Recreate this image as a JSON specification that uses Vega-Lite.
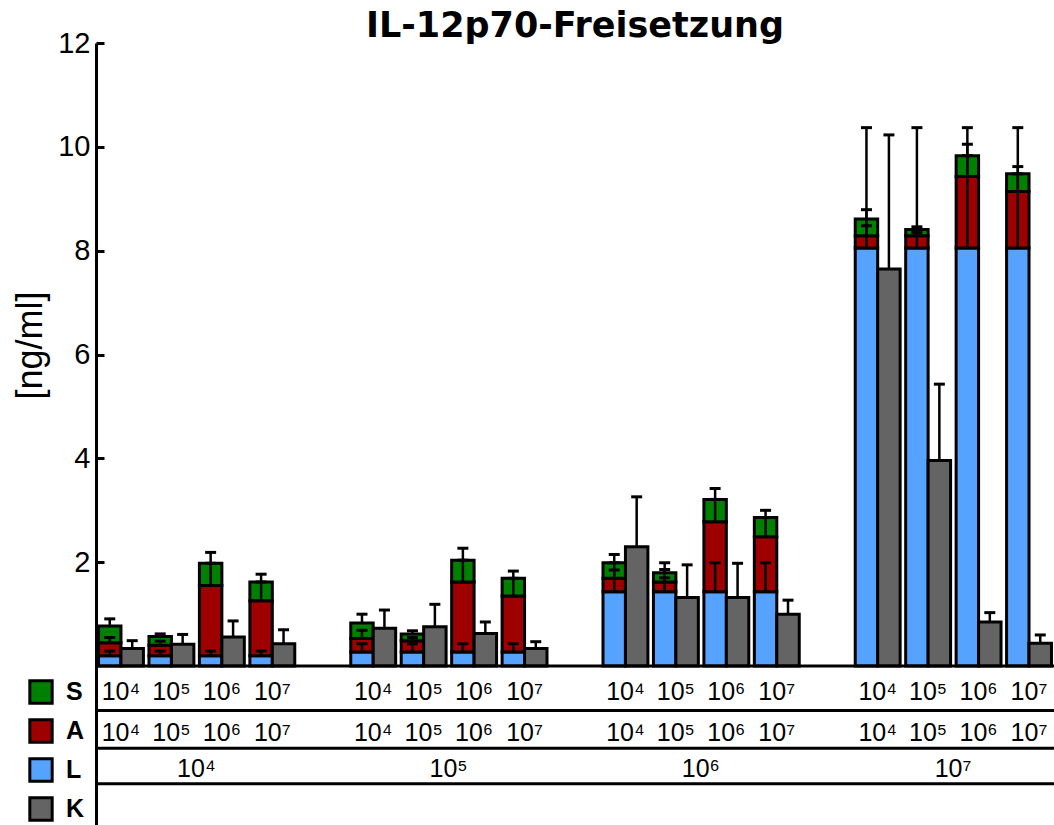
{
  "$schema": "https://vega.github.io/schema/vega-lite/v6.json",
  "width": 958,
  "height": 782,
  "autosize": {"type": "none"},
  "padding": {"left": 96, "top": 43, "right": 0, "bottom": 0},
  "background": "white",
  "config": {
    "view": {"stroke": null},
    "font": "Liberation Sans"
  },
  "title": {
    "text": "IL-12p70-Freisetzung",
    "fontSize": 35,
    "fontWeight": "bold",
    "font": "DejaVu Sans",
    "color": "black",
    "anchor": "middle",
    "offset": 0,
    "dy": 15
  },
  "datasets": {
    "bars": [
      {"slot": "L4-1", "kind": "stack", "series": "L", "lo": 0, "hi": 0.2, "errHi": 0.29},
      {"slot": "L4-1", "kind": "stack", "series": "A", "lo": 0.2, "hi": 0.45, "errHi": 0.55},
      {"slot": "L4-1", "kind": "stack", "series": "S", "lo": 0.45, "hi": 0.77, "errHi": 0.91},
      {"slot": "L4-1", "kind": "K", "series": "K", "lo": 0, "hi": 0.34, "errHi": 0.49},
      {"slot": "L4-2", "kind": "stack", "series": "L", "lo": 0, "hi": 0.2, "errHi": 0.29},
      {"slot": "L4-2", "kind": "stack", "series": "A", "lo": 0.2, "hi": 0.4, "errHi": 0.48},
      {"slot": "L4-2", "kind": "stack", "series": "S", "lo": 0.4, "hi": 0.57, "errHi": 0.62},
      {"slot": "L4-2", "kind": "K", "series": "K", "lo": 0, "hi": 0.42, "errHi": 0.61},
      {"slot": "L4-3", "kind": "stack", "series": "L", "lo": 0, "hi": 0.2, "errHi": 0.29},
      {"slot": "L4-3", "kind": "stack", "series": "A", "lo": 0.2, "hi": 1.55, "errHi": 1.98},
      {"slot": "L4-3", "kind": "stack", "series": "S", "lo": 1.55, "hi": 1.98, "errHi": 2.19},
      {"slot": "L4-3", "kind": "K", "series": "K", "lo": 0, "hi": 0.56, "errHi": 0.87},
      {"slot": "L4-4", "kind": "stack", "series": "L", "lo": 0, "hi": 0.2, "errHi": 0.29},
      {"slot": "L4-4", "kind": "stack", "series": "A", "lo": 0.2, "hi": 1.26, "errHi": 1.62},
      {"slot": "L4-4", "kind": "stack", "series": "S", "lo": 1.26, "hi": 1.62, "errHi": 1.77},
      {"slot": "L4-4", "kind": "K", "series": "K", "lo": 0, "hi": 0.43, "errHi": 0.7},
      {"slot": "L5-1", "kind": "stack", "series": "L", "lo": 0, "hi": 0.27, "errHi": 0.43},
      {"slot": "L5-1", "kind": "stack", "series": "A", "lo": 0.27, "hi": 0.53, "errHi": 0.69},
      {"slot": "L5-1", "kind": "stack", "series": "S", "lo": 0.53, "hi": 0.83, "errHi": 1.0},
      {"slot": "L5-1", "kind": "K", "series": "K", "lo": 0, "hi": 0.73, "errHi": 1.08},
      {"slot": "L5-2", "kind": "stack", "series": "L", "lo": 0, "hi": 0.27, "errHi": 0.43},
      {"slot": "L5-2", "kind": "stack", "series": "A", "lo": 0.27, "hi": 0.49, "errHi": 0.55},
      {"slot": "L5-2", "kind": "stack", "series": "S", "lo": 0.49, "hi": 0.62, "errHi": 0.68},
      {"slot": "L5-2", "kind": "K", "series": "K", "lo": 0, "hi": 0.76, "errHi": 1.19},
      {"slot": "L5-3", "kind": "stack", "series": "L", "lo": 0, "hi": 0.27, "errHi": 0.43},
      {"slot": "L5-3", "kind": "stack", "series": "A", "lo": 0.27, "hi": 1.62, "errHi": 2.04},
      {"slot": "L5-3", "kind": "stack", "series": "S", "lo": 1.62, "hi": 2.04, "errHi": 2.27},
      {"slot": "L5-3", "kind": "K", "series": "K", "lo": 0, "hi": 0.63, "errHi": 0.85},
      {"slot": "L5-4", "kind": "stack", "series": "L", "lo": 0, "hi": 0.27, "errHi": 0.43},
      {"slot": "L5-4", "kind": "stack", "series": "A", "lo": 0.27, "hi": 1.35, "errHi": 1.69},
      {"slot": "L5-4", "kind": "stack", "series": "S", "lo": 1.35, "hi": 1.69, "errHi": 1.83},
      {"slot": "L5-4", "kind": "K", "series": "K", "lo": 0, "hi": 0.34, "errHi": 0.47},
      {"slot": "L6-1", "kind": "stack", "series": "L", "lo": 0, "hi": 1.43, "errHi": 1.99},
      {"slot": "L6-1", "kind": "stack", "series": "A", "lo": 1.43, "hi": 1.69, "errHi": 1.85},
      {"slot": "L6-1", "kind": "stack", "series": "S", "lo": 1.69, "hi": 1.99, "errHi": 2.15},
      {"slot": "L6-1", "kind": "K", "series": "K", "lo": 0, "hi": 2.3, "errHi": 3.26},
      {"slot": "L6-2", "kind": "stack", "series": "L", "lo": 0, "hi": 1.43, "errHi": 1.99},
      {"slot": "L6-2", "kind": "stack", "series": "A", "lo": 1.43, "hi": 1.62, "errHi": 1.7},
      {"slot": "L6-2", "kind": "stack", "series": "S", "lo": 1.62, "hi": 1.8, "errHi": 1.86},
      {"slot": "L6-2", "kind": "K", "series": "K", "lo": 0, "hi": 1.32, "errHi": 1.95},
      {"slot": "L6-3", "kind": "stack", "series": "L", "lo": 0, "hi": 1.43, "errHi": 1.99},
      {"slot": "L6-3", "kind": "stack", "series": "A", "lo": 1.43, "hi": 2.78, "errHi": 3.21},
      {"slot": "L6-3", "kind": "stack", "series": "S", "lo": 2.78, "hi": 3.21, "errHi": 3.42},
      {"slot": "L6-3", "kind": "K", "series": "K", "lo": 0, "hi": 1.32, "errHi": 1.98},
      {"slot": "L6-4", "kind": "stack", "series": "L", "lo": 0, "hi": 1.43, "errHi": 1.99},
      {"slot": "L6-4", "kind": "stack", "series": "A", "lo": 1.43, "hi": 2.49, "errHi": 2.86},
      {"slot": "L6-4", "kind": "stack", "series": "S", "lo": 2.49, "hi": 2.86, "errHi": 3.0},
      {"slot": "L6-4", "kind": "K", "series": "K", "lo": 0, "hi": 1.0, "errHi": 1.27},
      {"slot": "L7-1", "kind": "stack", "series": "L", "lo": 0, "hi": 8.05, "errHi": 10.37},
      {"slot": "L7-1", "kind": "stack", "series": "A", "lo": 8.05, "hi": 8.29, "errHi": 8.48},
      {"slot": "L7-1", "kind": "stack", "series": "S", "lo": 8.29, "hi": 8.61, "errHi": 8.79},
      {"slot": "L7-1", "kind": "K", "series": "K", "lo": 0, "hi": 7.65, "errHi": 10.23},
      {"slot": "L7-2", "kind": "stack", "series": "L", "lo": 0, "hi": 8.05, "errHi": 10.37},
      {"slot": "L7-2", "kind": "stack", "series": "A", "lo": 8.05, "hi": 8.29, "errHi": 8.35},
      {"slot": "L7-2", "kind": "stack", "series": "S", "lo": 8.29, "hi": 8.41, "errHi": 8.46},
      {"slot": "L7-2", "kind": "K", "series": "K", "lo": 0, "hi": 3.96, "errHi": 5.43},
      {"slot": "L7-3", "kind": "stack", "series": "L", "lo": 0, "hi": 8.05, "errHi": 10.37},
      {"slot": "L7-3", "kind": "stack", "series": "A", "lo": 8.05, "hi": 9.43, "errHi": 9.83},
      {"slot": "L7-3", "kind": "stack", "series": "S", "lo": 9.43, "hi": 9.83, "errHi": 10.05},
      {"slot": "L7-3", "kind": "K", "series": "K", "lo": 0, "hi": 0.85, "errHi": 1.03},
      {"slot": "L7-4", "kind": "stack", "series": "L", "lo": 0, "hi": 8.05, "errHi": 10.37},
      {"slot": "L7-4", "kind": "stack", "series": "A", "lo": 8.05, "hi": 9.14, "errHi": 9.48},
      {"slot": "L7-4", "kind": "stack", "series": "S", "lo": 9.14, "hi": 9.48, "errHi": 9.62},
      {"slot": "L7-4", "kind": "K", "series": "K", "lo": 0, "hi": 0.44, "errHi": 0.6}
    ],
    "slots": [
      {"slot": "L4-1", "SA": "10⁴"}, {"slot": "L4-2", "SA": "10⁵"}, {"slot": "L4-3", "SA": "10⁶"}, {"slot": "L4-4", "SA": "10⁷"},
      {"slot": "L5-1", "SA": "10⁴"}, {"slot": "L5-2", "SA": "10⁵"}, {"slot": "L5-3", "SA": "10⁶"}, {"slot": "L5-4", "SA": "10⁷"},
      {"slot": "L6-1", "SA": "10⁴"}, {"slot": "L6-2", "SA": "10⁵"}, {"slot": "L6-3", "SA": "10⁶"}, {"slot": "L6-4", "SA": "10⁷"},
      {"slot": "L7-1", "SA": "10⁴"}, {"slot": "L7-2", "SA": "10⁵"}, {"slot": "L7-3", "SA": "10⁶"}, {"slot": "L7-4", "SA": "10⁷"}
    ],
    "groups": [
      {"slot": "L4-2", "L": "10⁴"},
      {"slot": "L5-2", "L": "10⁵"},
      {"slot": "L6-2", "L": "10⁶"},
      {"slot": "L7-2", "L": "10⁷"}
    ]
  },
  "encoding": {
    "x": {
      "field": "slot",
      "type": "nominal",
      "scale": {
        "domain": ["L4-1", "L4-2", "L4-3", "L4-4", "gap1", "L5-1", "L5-2", "L5-3", "L5-4", "gap2", "L6-1", "L6-2", "L6-3", "L6-4", "gap3", "L7-1", "L7-2", "L7-3", "L7-4"],
        "paddingInner": 0.11,
        "paddingOuter": 0.05
      },
      "axis": null
    }
  },
  "layer": [
    {
      "data": {"name": "bars"},
      "mark": {"type": "bar", "stroke": "black", "strokeWidth": 3, "strokeJoin": "miter", "opacity": 1},
      "encoding": {
        "xOffset": {"field": "kind", "type": "nominal", "scale": {"domain": ["stack", "K"], "paddingInner": 0, "paddingOuter": 0}},
        "y": {
          "field": "lo",
          "type": "quantitative",
          "scale": {"domain": [-3.06, 12], "nice": false, "zero": false},
          "axis": {
            "title": "[ng/ml]",
            "values": [2, 4, 6, 8, 10, 12],
            "grid": false,
            "labelFontSize": 29,
            "labelFont": "Liberation Sans",
            "labelColor": "black",
            "labelPadding": 14,
            "domainColor": "black",
            "domainWidth": 3,
            "tickColor": "black",
            "tickWidth": 3,
            "tickSize": -8,
            "titleFontSize": 36,
            "titleFont": "Liberation Sans",
            "titleFontWeight": "normal",
            "titleColor": "black",
            "titleX": -66,
            "titleY": 302,
            "titleAlign": "center",
            "titleBaseline": "middle",
            "titleAngle": -90
          }
        },
        "y2": {"field": "hi"},
        "color": {
          "field": "series",
          "type": "nominal",
          "scale": {"domain": ["S", "A", "L", "K"], "range": ["#008000", "#9E0000", "#55A2FF", "#646464"]},
          "legend": {
            "title": null,
            "orient": "none",
            "legendX": -68,
            "legendY": 636,
            "direction": "vertical",
            "symbolType": "square",
            "symbolSize": 500,
            "symbolStrokeColor": "black",
            "symbolStrokeWidth": 3,
            "symbolOpacity": 1,
            "labelFontSize": 25,
            "labelFontWeight": "bold",
            "labelFont": "Liberation Sans",
            "labelColor": "black",
            "labelOffset": 12,
            "rowPadding": 3,
            "padding": 0
          }
        }
      }
    },
    {
      "data": {"name": "bars"},
      "mark": {"type": "rule", "color": "black", "strokeWidth": 2.5},
      "encoding": {
        "xOffset": {"field": "kind", "type": "nominal"},
        "y": {"field": "hi", "type": "quantitative"},
        "y2": {"field": "errHi"}
      }
    },
    {
      "data": {"name": "bars"},
      "mark": {"type": "tick", "color": "black", "orient": "horizontal", "size": 11, "thickness": 3, "opacity": 1},
      "encoding": {
        "xOffset": {"field": "kind", "type": "nominal"},
        "y": {"field": "errHi", "type": "quantitative"}
      }
    },
    {
      "data": {"values": [{}]},
      "mark": {"type": "rule", "color": "black", "strokeWidth": 3},
      "encoding": {"x": null, "y": {"datum": 0}}
    },
    {
      "data": {"values": [{}]},
      "mark": {"type": "rule", "color": "black", "strokeWidth": 3},
      "encoding": {"x": null, "y": {"datum": -0.857}}
    },
    {
      "data": {"values": [{}]},
      "mark": {"type": "rule", "color": "black", "strokeWidth": 3},
      "encoding": {"x": null, "y": {"datum": -1.58}}
    },
    {
      "data": {"values": [{}]},
      "mark": {"type": "rule", "color": "black", "strokeWidth": 3},
      "encoding": {"x": null, "y": {"datum": -2.264}}
    },
    {
      "data": {"name": "slots"},
      "mark": {"type": "text", "fontSize": 25, "font": "Liberation Sans", "color": "black", "baseline": "middle", "align": "center"},
      "encoding": {"y": {"datum": -0.5}, "text": {"field": "SA"}}
    },
    {
      "data": {"name": "slots"},
      "mark": {"type": "text", "fontSize": 25, "font": "Liberation Sans", "color": "black", "baseline": "middle", "align": "center"},
      "encoding": {"y": {"datum": -1.28}, "text": {"field": "SA"}}
    },
    {
      "data": {"name": "groups"},
      "mark": {"type": "text", "fontSize": 25, "font": "Liberation Sans", "color": "black", "baseline": "middle", "align": "center"},
      "encoding": {
        "x": {"field": "slot", "type": "nominal", "bandPosition": 1.056},
        "y": {"datum": -1.99},
        "text": {"field": "L"}
      }
    }
  ]
}
